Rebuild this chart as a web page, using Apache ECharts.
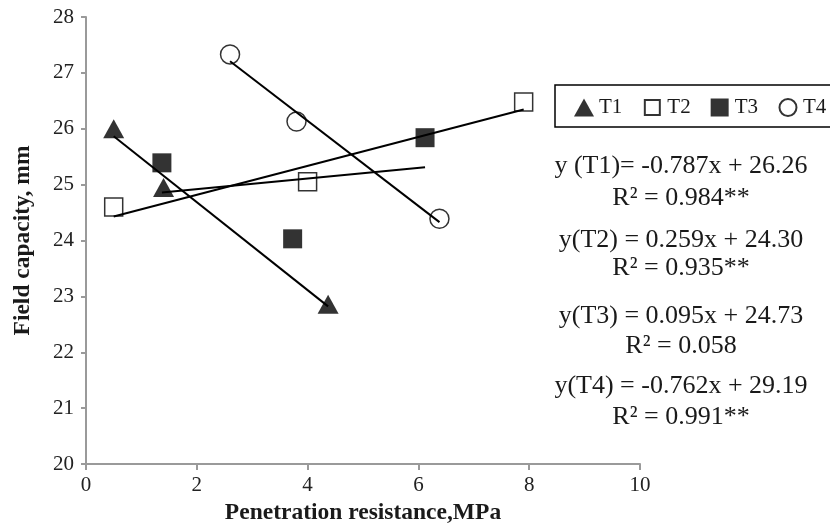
<!DOCTYPE html>
<html>
<head>
<meta charset="utf-8">
<script src="https://cdn.jsdelivr.net/npm/echarts@6/dist/echarts.min.js"></script>
<style>
  html, body { margin: 0; padding: 0; background: #fff; }
  #chart { width: 830px; height: 530px; }
</style>
</head>
<body>
<div id="chart"></div>
<script>
// Penetration resistance (MPa) and field capacity (mm) per treatment
const seriesNames = ['T1', 'T2', 'T3', 'T4'];
const t1X = [0.5, 1.4, 4.37];
const t1Y = [26.0, 24.95, 22.86];
const t2X = [0.5, 4.0, 7.9];
const t2Y = [24.6, 25.05, 26.48];
const t3X = [1.37, 3.73, 6.12];
const t3Y = [25.39, 24.03, 25.84];
const t4X = [2.6, 3.8, 6.38];
const t4Y = [27.33, 26.13, 24.39];

// Linear fits y = a*x + b for each treatment
const slopes = [-0.787, 0.259, 0.095, -0.762];
const intercepts = [26.26, 24.30, 24.73, 29.19];

// Fit equations and coefficients of determination
const equationLabels = [
  'y (T1)= -0.787x + 26.26',
  'y(T2) = 0.259x + 24.30',
  'y(T3) = 0.095x + 24.73',
  'y(T4) = -0.762x + 29.19'
];
const r2Labels = [
  'R² = 0.984**',
  'R² = 0.935**',
  'R² = 0.058',
  'R² = 0.991**'
];

const xTicks = [0, 2, 4, 6, 8, 10];
const yTicks = [20, 21, 22, 23, 24, 25, 26, 27, 28];

const xs = [t1X, t2X, t3X, t4X];
const ys = [t1Y, t2Y, t3Y, t4Y];

const SERIF = '"Liberation Serif", "Times New Roman", serif';
const INK = '#1a1a1a';
const AXIS_GREY = '#9a9a9a';

const markerStyles = [
  { symbol: 'triangle', size: [21, 19], itemStyle: { color: '#000' } },
  { symbol: 'rect', size: 18, itemStyle: { color: 'rgba(255,255,255,0)', borderColor: '#000', borderWidth: 1.5 } },
  { symbol: 'rect', size: 19, itemStyle: { color: '#000' } },
  { symbol: 'circle', size: 19, itemStyle: { color: 'rgba(255,255,255,0)', borderColor: '#000', borderWidth: 1.5 } }
];

// Legend glyphs in a 20x18 box (leading moves pin the box size)
const legendIcons = [
  'triangle',
  'path://M0,0M20,18M2.5,1.5h15v15h-15z',
  'path://M0,0M20,18M1,0h18v18h-18z',
  'path://M0,0M20,18M18.5,9A8.5,8.5,0,1,1,1.5,9A8.5,8.5,0,1,1,18.5,9z'
];

const series = [];

// Trend lines across each treatment's measured range
seriesNames.forEach((name, i) => {
  const lo = Math.min(...xs[i]);
  const hi = Math.max(...xs[i]);
  series.push({
    name: name + ' fit',
    type: 'line',
    data: [[lo, slopes[i] * lo + intercepts[i]], [hi, slopes[i] * hi + intercepts[i]]],
    symbol: 'none',
    lineStyle: { color: '#000', width: 2 },
    silent: true,
    z: 2
  });
});

// Observed points
seriesNames.forEach((name, i) => {
  const m = markerStyles[i];
  series.push({
    name: name,
    type: 'scatter',
    data: xs[i].map((x, k) => [x, ys[i][k]]),
    symbol: m.symbol,
    symbolSize: m.size,
    itemStyle: m.itemStyle,
    z: 3
  });
});

// Equation block on the right
const eqCenterX = 681;
const eqY = [166, 240, 316, 386];
const r2Y = [198, 268, 346, 417];
const graphics = [
  {
    type: 'rect',
    shape: { x: 555, y: 85, width: 300, height: 42 },
    style: { fill: 'none', stroke: '#000', lineWidth: 1.5 },
    z: 1
  }
];
equationLabels.forEach((t, i) => {
  graphics.push({
    type: 'text',
    style: { text: t, x: eqCenterX, y: eqY[i], textAlign: 'center', verticalAlign: 'middle',
             font: '26px ' + SERIF, fill: INK }
  });
  graphics.push({
    type: 'text',
    style: { text: r2Labels[i], x: eqCenterX, y: r2Y[i], textAlign: 'center', verticalAlign: 'middle',
             font: '26px ' + SERIF, fill: INK }
  });
});

const option = {
  backgroundColor: '#fff',
  animation: false,
  textStyle: { fontFamily: SERIF },
  grid: { left: 86, right: 190, top: 17, bottom: 66, containLabel: false },
  legend: {
    data: seriesNames.map((n, i) => ({ name: n, icon: legendIcons[i] })),
    left: 574,
    top: 97,
    width: 300,
    padding: 0,
    itemWidth: 20,
    itemHeight: 18,
    itemGap: 19,
    textStyle: { fontFamily: SERIF, fontSize: 21, color: INK }
  },
  xAxis: {
    type: 'value',
    min: xTicks[0],
    max: xTicks[xTicks.length - 1],
    interval: 2,
    name: 'Penetration resistance,MPa',
    nameLocation: 'middle',
    nameGap: 33,
    nameTextStyle: { fontFamily: SERIF, fontSize: 23.5, fontWeight: 'bold', color: INK },
    axisLine: { lineStyle: { color: AXIS_GREY, width: 2 } },
    axisTick: { show: true, length: 6, lineStyle: { color: AXIS_GREY, width: 2 } },
    axisLabel: { fontFamily: SERIF, fontSize: 21, color: '#222', margin: 11 },
    splitLine: { show: false }
  },
  yAxis: {
    type: 'value',
    min: yTicks[0],
    max: yTicks[yTicks.length - 1],
    interval: 1,
    name: 'Field capacity, mm',
    nameLocation: 'middle',
    nameGap: 51,
    nameTextStyle: { fontFamily: SERIF, fontSize: 23.5, fontWeight: 'bold', color: INK },
    axisLine: { show: true, lineStyle: { color: AXIS_GREY, width: 2 } },
    axisTick: { show: true, length: 5, lineStyle: { color: AXIS_GREY, width: 2 } },
    axisLabel: { fontFamily: SERIF, fontSize: 21, color: '#222', margin: 12 },
    splitLine: { show: false }
  },
  graphic: graphics,
  series: series
};

const chart = echarts.init(document.getElementById('chart'), null, { renderer: 'canvas' });
chart.setOption(option);
</script>
</body>
</html>
